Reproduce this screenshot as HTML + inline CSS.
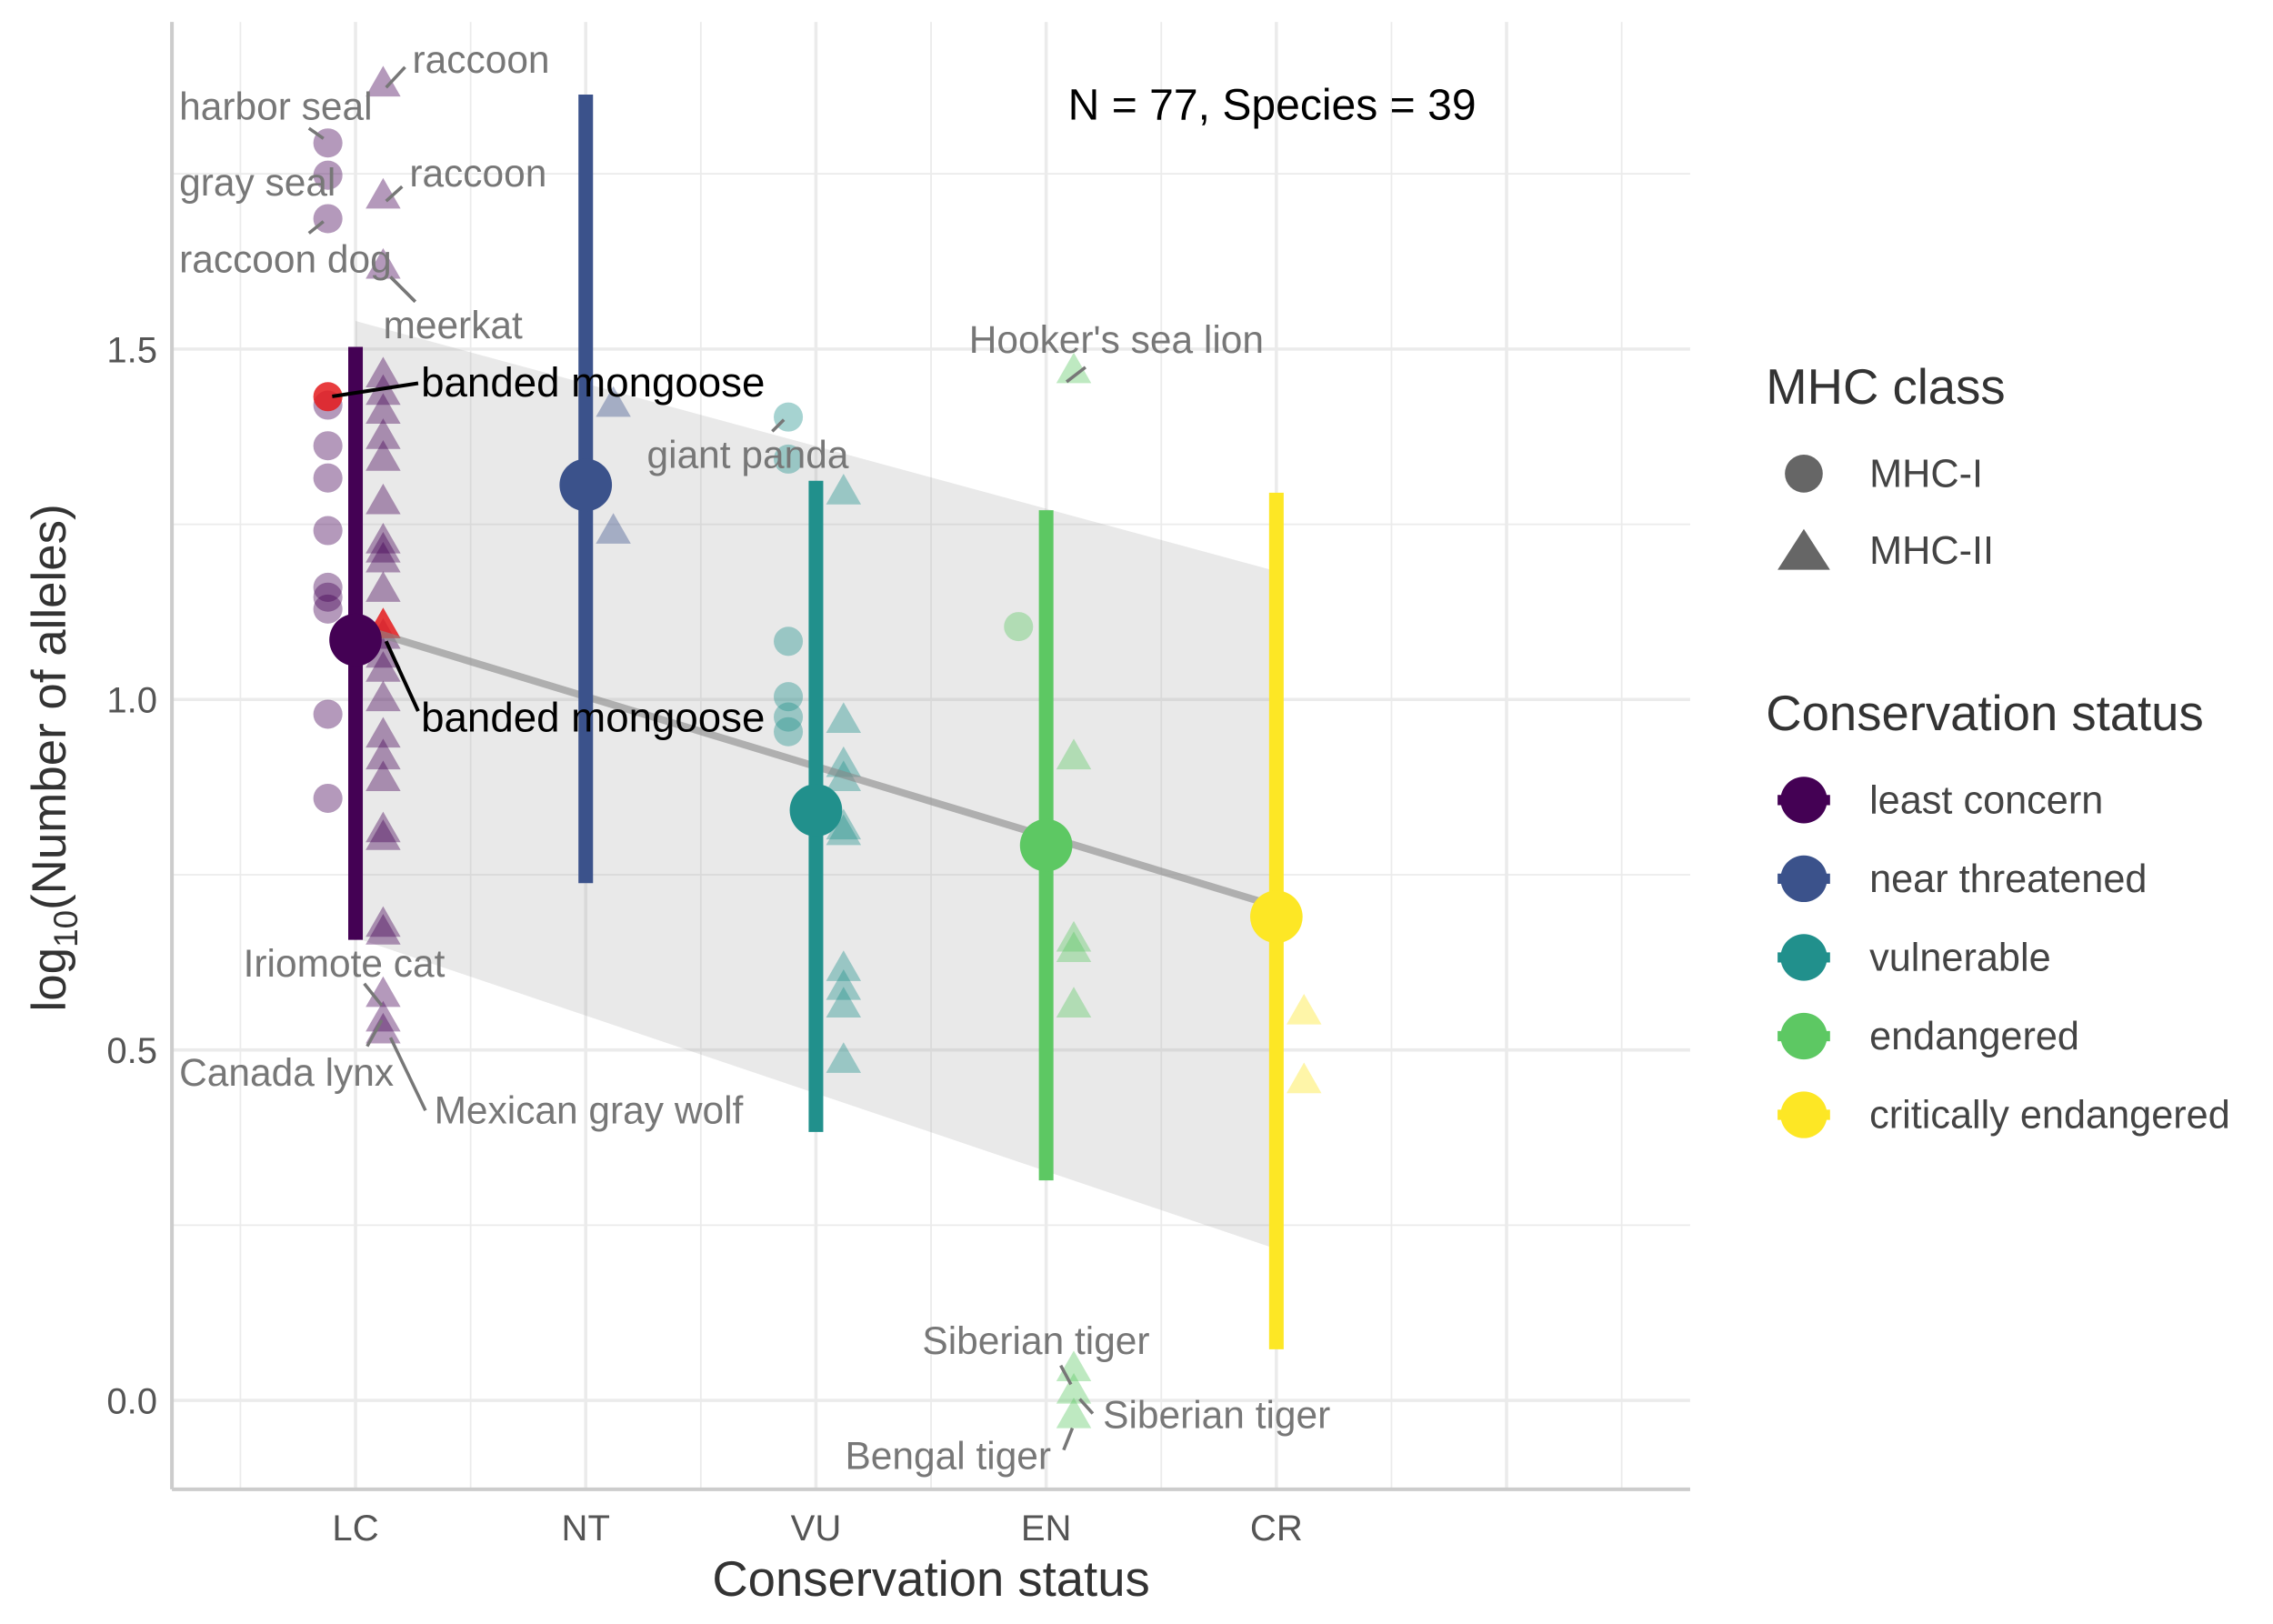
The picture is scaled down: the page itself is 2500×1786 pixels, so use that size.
<!DOCTYPE html>
<html><head><meta charset="utf-8"><style>
html,body{margin:0;padding:0;background:#fff;}
svg{display:block;font-family:"Liberation Sans",sans-serif;}
</style></head><body>
<svg id="chart" width="2500" height="1786" viewBox="0 0 1560 1114.4" xmlns="http://www.w3.org/2000/svg">
<g id="grid"></g>
<g id="ribbon"></g>
<g id="points"></g>
<g id="bars"></g>
<g id="labels"></g>
<g id="axes"></g>
<text x="733" y="82" font-size="30" fill="#000">N = 77, Species = 39</text>
<text transform="translate(45,520) rotate(-90)" text-anchor="middle" font-size="33" fill="#333">log<tspan font-size="23" dy="8">10</tspan><tspan dy="-8">(Number of alleles)</tspan></text>
<text x="639" y="1095" text-anchor="middle" font-size="34" fill="#333">Conservation status</text>
<g>
<text x="1212" y="277" font-size="34" fill="#333">MHC class</text>
<circle cx="1238" cy="325" r="13" fill="#666"/>
<text x="1283" y="334" font-size="27" fill="#444">MHC-I</text>
<polygon points="1238,363 1256,391 1220,391" fill="#666"/>
<text x="1283" y="387" font-size="27" fill="#444">MHC-II</text>
<text x="1212" y="501" font-size="34" fill="#333">Conservation status</text>
<g id="legend-status"></g>
</g>
</svg>
<script>
const categories = ["LC","NT","VU","EN","CR"];
const statusNames = ["least concern","near threatened","vulnerable","endangered","critically endangered"];
const colors = ["#440154","#3B528B","#21908C","#5DC863","#FDE725"];
const yTicks = [0, 0.5, 1.0, 1.5];
const yTickLabels = ["0.0","0.5","1.0","1.5"];
const circleCat = [1,1,1,1,1,1,1,1,1,1,1,1, 3,3,3,3,3,3, 4];
const circleVal = [1.794,1.748,1.686,1.42,1.362,1.316,1.241,1.16,1.146,1.129,0.979,0.859, 1.403,1.343,1.083,1.004,0.975,0.954, 1.104];
const triCat = [1,1,1,1,1,1,1,1,1,1,1,1,1,1,1,1,1,1,1,1,1,1,1,1,1,1,1, 2,2, 3,3,3,3,3,3,3,3,3,3, 4,4,4,4,4,4,4,4, 5,5];
const triVal = [1.877,1.717,1.617,1.462,1.437,1.41,1.374,1.343,1.281,1.225,1.212,1.198,1.156,1.089,1.062,1.042,1.0,0.948,0.917,0.886,0.813,0.802,0.678,0.667,0.578,0.543,0.526,
 1.42,1.239,
 1.295,0.969,0.906,0.886,0.817,0.809,0.615,0.588,0.563,0.484,
 1.468,0.917,0.657,0.642,0.563,0.044,0.012,-0.023,
 0.553,0.455];
const highlightCircle = {cat:1, val:1.432};
const highlightTri = {cat:1, val:1.104};
const means = [1.085,1.306,0.842,0.792,0.69];
const lower = [0.657,0.738,0.383,0.314,0.073];
const upper = [1.503,1.863,1.312,1.27,1.295];
const fitX = [1,5];
const fitY = [1.104,0.705];
const ribbonUpper = [1.54,1.183];
const ribbonLower = [0.66,0.216];
const annotations = [
 ["raccoon",283,50,"g"],["harbor seal",123,82,"g"],["gray seal",123,134,"g"],
 ["raccoon",281,128,"g"],["raccoon dog",123,187,"g"],["meerkat",263,232,"g"],
 ["banded mongoose",289,272,"k"],["banded mongoose",289,502,"k"],
 ["giant panda",444,321,"g"],["Hooker's sea lion",665,242,"g"],
 ["Iriomote cat",167,670,"g"],["Canada lynx",123,745,"g"],["Mexican gray wolf",298,771,"g"],
 ["Siberian tiger",633,929,"g"],["Siberian tiger",757,980,"g"],["Bengal tiger",580,1008,"g"]
];
const segs = [[265,60,278,46],[212,88,222,95],[212,160,222,152],[265,138,276,128],[268,190,285,207],[268,190,285,207],
 [228,272,287,263],[265,440,287,488],[530,296,538,288],[732,262,745,252],[250,675,262,690],[252,718,262,700],[268,712,292,762],
 [728,937,735,950],[741,960,750,970],[736,980,730,995]];

const NS="http://www.w3.org/2000/svg";
const X0=118,X1=1160,Y0=15,Y1=1022;
const xs = c => 244 + (c-1)*158;
const ys = v => 961 - v*481;
function mk(tag, attrs, parent){const e=document.createElementNS(NS,tag);for(const k in attrs)e.setAttribute(k,attrs[k]);parent.appendChild(e);return e;}
const grid=document.getElementById('grid');
for(let v=-0.25; v<=1.75; v+=0.25){const y=ys(v); if(y<Y0||y>Y1)continue;
 const major=Math.abs(v*2-Math.round(v*2))<1e-6;
 const l=mk('line',{x1:X0,x2:X1,y1:y,y2:y,stroke:'#ebebeb','stroke-width':major?2.2:1.1},grid);
  }
for(let c=0.5;c<=6.51;c+=0.5){const x=xs(c);
 const major=Math.abs(c-Math.round(c))<1e-6;
 const l=mk('line',{x1:x,x2:x,y1:Y0,y2:Y1,stroke:'#ebebeb','stroke-width':major?2.2:1.1},grid);
  }
const rib=document.getElementById('ribbon');
const rp=mk('polygon',{points:`${xs(fitX[0])},${ys(ribbonUpper[0])} ${xs(fitX[1])},${ys(ribbonUpper[1])} ${xs(fitX[1])},${ys(ribbonLower[1])} ${xs(fitX[0])},${ys(ribbonLower[0])}`,fill:'#999','fill-opacity':0.22},rib);
 
const pts=document.getElementById('points');
circleCat.forEach((c,i)=>{const e=mk('circle',{cx:xs(c-0.12),cy:ys(circleVal[i]),r:10,fill:colors[c-1],'fill-opacity':0.4},pts);
  });
function tri(cx,cy,col,op,parent){return mk('polygon',{points:`${cx},${cy-13} ${cx+12},${cy+8} ${cx-12},${cy+8}`,fill:col,'fill-opacity':op},parent);}
triCat.forEach((c,i)=>{const e=tri(xs(c+0.12),ys(triVal[i]),colors[c-1],0.4,pts);
  });
const hc=mk('circle',{cx:xs(highlightCircle.cat-0.12),cy:ys(highlightCircle.val),r:10,fill:'#E41A1C','fill-opacity':0.85},pts);
 
const bars=document.getElementById('bars');
const fl=mk('line',{x1:xs(fitX[0]),y1:ys(fitY[0]),x2:xs(fitX[1]),y2:ys(fitY[1]),stroke:'#888','stroke-width':5,'stroke-opacity':0.6},bars);
 
categories.forEach((c,i)=>{const x=xs(i+1);
 const b=mk('line',{x1:x,x2:x,y1:ys(upper[i]),y2:ys(lower[i]),stroke:colors[i],'stroke-width':10},bars);
  
 const m=mk('circle',{cx:x,cy:ys(means[i]),r:18,fill:colors[i]},bars);
  });
const ht=tri(xs(highlightTri.cat+0.12),ys(highlightTri.val),'#E41A1C',0.85,pts);
 
const lab=document.getElementById('labels');
annotations.forEach((a,i)=>{const col=a[3]==='k'?'#000':'#777';const s=segs[i];
 const l=mk('line',{x1:s[0],y1:s[1],x2:s[2],y2:s[3],stroke:col,'stroke-width':a[3]==='k'?2.5:2.2},lab);
  
 const t=mk('text',{x:a[1],y:a[2],'font-size':a[3]==='k'?28.5:26.5,fill:col},lab); t.textContent=a[0];
  });
const ax=document.getElementById('axes');
const ya=mk('line',{x1:X0,x2:X0,y1:Y0,y2:Y1,stroke:'#cccccc','stroke-width':2.5},ax);
 
const xa=mk('line',{x1:X0,x2:X1,y1:Y1,y2:Y1,stroke:'#cccccc','stroke-width':2.5},ax);
 
yTicks.forEach((v,i)=>{const t=mk('text',{x:X0-10,y:ys(v)+9,'text-anchor':'end','font-size':25,fill:'#555'},ax);t.textContent=yTickLabels[i];
  });
categories.forEach((c,i)=>{const t=mk('text',{x:xs(i+1),y:1057,'text-anchor':'middle','font-size':25,fill:'#555'},ax);t.textContent=c;
  });
const lg=document.getElementById('legend-status');
statusNames.forEach((n,i)=>{const y=549+i*54;
 const l=mk('line',{x1:1220,x2:1256,y1:y,y2:y,stroke:colors[i],'stroke-width':7},lg);
  
 const c=mk('circle',{cx:1238,cy:y,r:16,fill:colors[i]},lg);
  
 const t=mk('text',{x:1283,y:y+9,'font-size':27,fill:'#444'},lg);t.textContent=n;
  });
</script>
</body></html>
